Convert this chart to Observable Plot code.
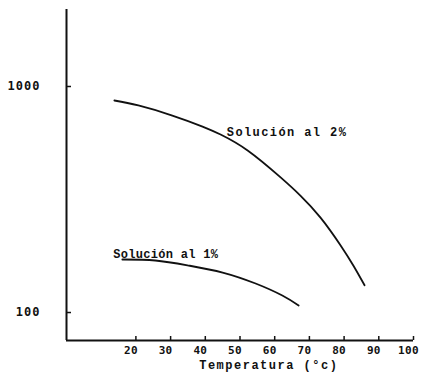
<!DOCTYPE html>
<html>
<head>
<meta charset="utf-8">
<script src="https://cdn.jsdelivr.net/npm/d3@7"></script>
<script src="https://cdn.jsdelivr.net/npm/@observablehq/plot@0.6"></script>
<style>
  html, body { margin: 0; padding: 0; background: #fff; }
  svg { overflow: visible; }
</style>
</head>
<body>
<div id="chart"></div>
<script>
// Temperature (°C) and values (log scale)
const temp2 = [13.8, 20.7, 30.5, 39.2, 44.4, 52.2, 61.7, 67.4, 73.2, 79.0, 82.7, 85.9];
const val2  = [867, 824, 744, 665, 613, 521, 396, 329, 263, 198, 161, 132];
const temp1 = [16.1, 25.6, 35.2, 45.0, 54.5, 62.2, 66.9];
const val1  = [171.6, 169.9, 161.4, 150.3, 134.4, 118.9, 107.4];
const xTicks = [20, 30, 40, 50, 60, 70, 80, 90, 100];
const yTicks = [100, 1000];
const labels = ["Solución al 2%", "Solución al 1%"];
const labelX = [46.2, 13.5];
const labelY = [631, 182];
const xTitle = "Temperatura (°c)";

const s2 = temp2.map((t, i) => ({t, v: val2[i]}));
const s1 = temp1.map((t, i) => ({t, v: val1[i]}));
const lab = labels.map((s, i) => ({s, x: labelX[i], y: labelY[i]}));

const yMin = 75.2, yMax = 2191;
const W = 422, H = 377, mL = 66, mR = 9, mT = 9, mB = 37;
const mono = "'Liberation Mono', 'DejaVu Sans Mono', monospace";
const gothic = "'DejaVu Sans Mono', monospace";

const chart = Plot.plot({
  width: W,
  height: H,
  marginLeft: mL,
  marginRight: mR,
  marginTop: mT,
  marginBottom: mB,
  style: {background: "#fff", color: "#111", overflow: "visible"},
  x: {domain: [0, 100]},
  y: {type: "log", domain: [yMin, yMax]},
  marks: [
    Plot.ruleX([0], {stroke: "#111", strokeWidth: 2}),
    Plot.ruleY([yMin], {stroke: "#111", strokeWidth: 2}),
    Plot.tickX(xTicks, {x: d => d, insetTop: H - mT - mB - 4, stroke: "#111", strokeWidth: 1.5}),
    Plot.tickY(yTicks, {y: d => d, insetRight: W - mL - mR - 5, stroke: "#111", strokeWidth: 1.5}),
    Plot.axisX({ticks: xTicks, tickSize: 0, tickPadding: 6, dx: -5, label: null,
      fontFamily: gothic, fontWeight: "bold", fontSize: 11, fill: "#111"}),
    Plot.axisY({ticks: yTicks, tickSize: 0, tickPadding: 26, tickFormat: d => String(d), label: null,
      fontFamily: gothic, fontWeight: "bold", fontSize: 12, fill: "#111"}),
    Plot.line(s2, {x: "t", y: "v", curve: "natural", stroke: "#111", strokeWidth: 1.8}),
    Plot.line(s1, {x: "t", y: "v", curve: "natural", stroke: "#111", strokeWidth: 1.8}),
    Plot.text(lab, {x: "x", y: "y", text: "s", textAnchor: "start", fontFamily: mono,
      fontWeight: "bold", fontSize: 12, fill: "#111"}),
    Plot.text([xTitle], {x: 58.3, frameAnchor: "bottom", dy: 28, text: d => d, fontFamily: mono,
      fontWeight: "bold", fontSize: 12, fill: "#111"})
  ]
});
chart.querySelectorAll("text").forEach(t => {
  const s = t.textContent;
  if (s === labels[0]) t.style.letterSpacing = "1.4px";
  else if (s === labels[1]) t.style.letterSpacing = "0.3px";
  else if (s === xTitle) t.style.letterSpacing = "1.5px";
});
chart.querySelectorAll("g[aria-label='y-axis tick label'] text").forEach(t => t.style.letterSpacing = "1px");
chart.querySelectorAll("g[aria-label='x-axis tick label'] text").forEach(t => t.style.letterSpacing = "0.3px");
document.getElementById("chart").append(chart);
</script>
</body>
</html>
